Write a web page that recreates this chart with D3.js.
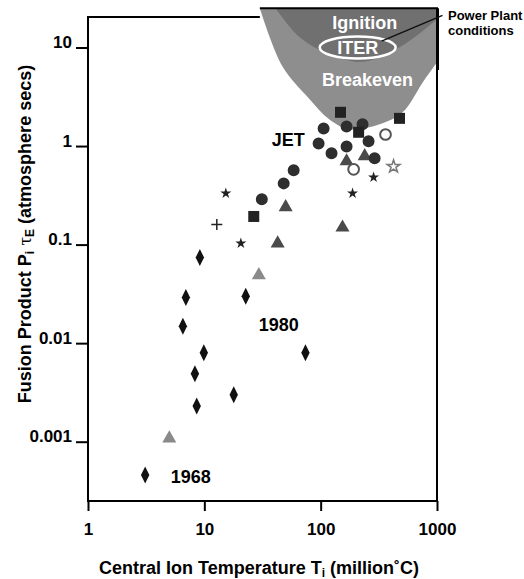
<!DOCTYPE html>
<html>
<head>
<meta charset="utf-8">
<script src="https://cdn.jsdelivr.net/npm/d3@7"></script>
<style>
  body { margin: 0; background: #fff; }
  text { font-family: "Liberation Sans", Arial, sans-serif; font-weight: bold; }
</style>
</head>
<body>
<div id="chart-area"></div>
<script>
const WIDTH = 524
const HEIGHT = 579
const LEFT = 88, RIGHT = 437, TOP = 17, BOTTOM = 501

// [temperature (million C), fusion product (atm s)]
const diamonds = [[9.15, 0.074], [6.94, 0.029], [22.7, 0.030], [6.54, 0.0148], [9.9, 0.0080],
  [74, 0.0080], [8.3, 0.0049], [17.9, 0.0030], [8.6, 0.0023], [3.1, 0.00046]]
const trianglesDark = [[50, 0.24], [42.7, 0.103], [154, 0.149], [167, 0.70], [239, 0.79]]
const trianglesLight = [[29.4, 0.049], [5.0, 0.00108]]
const circles = [[31.2, 0.288], [48.1, 0.418], [58.6, 0.567], [96, 1.06], [106, 1.51], [124, 0.843],
  [167, 1.58], [167, 0.99], [229, 1.66], [258, 1.12], [291, 0.75]]
const squares = [[26.6, 0.193], [148, 2.2], [212, 1.38], [476, 1.91]]
const openCircles = [[361, 1.31], [192, 0.58]]
const stars = [[15.3, 0.331], [20.6, 0.103], [188, 0.331], [285, 0.481]]
const openStars = [[423, 0.62]]
const crosses = [[12.8, 0.16]]

// lower edges of the shaded regions
const P_TOP = 25
const breakevenEdge = [[30, 25], [47, 6.4], [80, 3.0], [119, 1.86], [177, 1.48], [321, 1.66],
  [506, 2.2], [751, 4.4], [1000, 7.1]]
const ignitionEdge = [[41, 25], [66, 12.7], [119, 8.5], [239, 7.2], [526, 10.8], [1000, 19.3]]

const xTicks = [1, 10, 100, 1000]
const yTicks = [0.001, 0.01, 0.1, 1, 10]
const yTickLabels = ["0.001", "0.01", "0.1", "1", "10"]

const x = d3.scaleLog().domain([1, 1000]).range([LEFT, RIGHT])
const y = d3.scaleLog().domain([0.001, 10]).range([441.7, 47.5])

const svg = d3.select("#chart-area").append("svg")
  .attr("width", WIDTH)
  .attr("height", HEIGHT)

svg.append("rect").attr("width", WIDTH).attr("height", HEIGHT).attr("fill", "#fff")

// shaded regions
const edge = d3.line()
  .x(d => x(d[0]))
  .y(d => y(d[1]))
  .curve(d3.curveCatmullRom.alpha(0.5))

function region (points) {
  const first = points[0], last = points[points.length - 1]
  return edge(points) + `L${x(last[0])},${y(P_TOP)}L${x(first[0])},${y(P_TOP)}Z`
}

svg.append("path").attr("d", region(breakevenEdge)).attr("fill", "#8e8e8e")
svg.append("path").attr("d", region(ignitionEdge)).attr("fill", "#707070")

// frame
const xShade = x(breakevenEdge[0][0])
svg.append("path")
  .attr("d", `M${xShade},${TOP}H${LEFT}V${BOTTOM}H${RIGHT}V${y(P_TOP)}H${xShade}`)
  .attr("fill", "none")
  .attr("stroke", "#000")
  .attr("stroke-width", 2)
svg.append("line")
  .attr("x1", RIGHT + 0.5).attr("x2", RIGHT + 0.5)
  .attr("y1", y(P_TOP)).attr("y2", 70)
  .attr("stroke", "#000").attr("stroke-width", 3)

// axes
const xAxisGroup = svg.append("g").attr("transform", `translate(0, ${BOTTOM})`)
xAxisGroup.call(d3.axisBottom(x).tickValues(xTicks).tickFormat(d3.format("d")).tickSize(10))
xAxisGroup.select(".domain").remove()
xAxisGroup.attr("font-size", 17).attr("font-family", null)
xAxisGroup.selectAll("line").attr("stroke-width", 2)
xAxisGroup.selectAll("text").attr("y", 22).attr("fill", "#000")

const yAxisGroup = svg.append("g").attr("transform", `translate(${LEFT}, 0)`)
yAxisGroup.call(d3.axisLeft(y).tickValues(yTicks).tickFormat((d, i) => yTickLabels[i]).tickSize(12))
yAxisGroup.select(".domain").remove()
yAxisGroup.attr("font-size", 17).attr("font-family", null)
yAxisGroup.selectAll("line").attr("stroke-width", 2)
yAxisGroup.selectAll("text").attr("x", -16).attr("dy", "0").attr("fill", "#000")

// axis titles
const xTitle = svg.append("text")
  .attr("x", 259).attr("y", 574)
  .attr("text-anchor", "middle")
  .attr("font-size", 18)
xTitle.append("tspan").text("Central Ion Temperature T")
xTitle.append("tspan").attr("font-size", 12).attr("dy", 3).text("i")
xTitle.append("tspan").attr("dy", -3).text(" (million˚C)")

const yTitle = svg.append("text")
  .attr("transform", "translate(31, 234) rotate(-90)")
  .attr("text-anchor", "middle")
  .attr("font-size", 18)
yTitle.append("tspan").text("Fusion Product P")
yTitle.append("tspan").attr("font-size", 12).attr("dy", 3).text("i")
yTitle.append("tspan").attr("dy", -3).attr("font-weight", "normal")
  .attr("font-family", "DejaVu Serif, serif").attr("font-size", 16).text(" τ")
yTitle.append("tspan").attr("font-size", 12).attr("dy", 3).text("E")
yTitle.append("tspan").attr("dy", -3).text(" (atmosphere secs)")

// markers
const sym = (type, size) => d3.symbol().type(type).size(size)()
const diamondPath = "M0,-8.5L4.2,0L0,8.5L-4.2,0Z"
const crossPath = "M-5.5,0H5.5M0,-5.5V5.5"

const series = [
  {data: diamonds, d: diamondPath, fill: "#111", stroke: "none"},
  {data: trianglesLight, d: sym(d3.symbolTriangle, 85), fill: "#8a8a8a", stroke: "none"},
  {data: trianglesDark, d: sym(d3.symbolTriangle, 85), fill: "#4a4a4a", stroke: "none"},
  {data: circles, d: sym(d3.symbolCircle, 113), fill: "#2e2e2e", stroke: "none"},
  {data: squares, d: sym(d3.symbolSquare, 121), fill: "#222", stroke: "none"},
  {data: openCircles, d: sym(d3.symbolCircle, 90), fill: "#fff", stroke: "#555", width: 2},
  {data: stars, d: sym(d3.symbolStar, 38), fill: "#222", stroke: "none"},
  {data: openStars, d: sym(d3.symbolStar, 50), fill: "#fff", stroke: "#777", width: 1.5},
  {data: crosses, d: crossPath, fill: "none", stroke: "#222", width: 1.5}
]

series.forEach(s => {
  svg.append("g").selectAll("path").data(s.data).enter().append("path")
    .attr("transform", d => `translate(${x(d[0])}, ${y(d[1])})`)
    .attr("d", s.d)
    .attr("fill", s.fill)
    .attr("stroke", s.stroke)
    .attr("stroke-width", s.width || 0)
})

// annotations
svg.append("text").attr("x", x(73)).attr("y", y(1.0)).attr("text-anchor", "end")
  .attr("font-size", 18).text("JET")
svg.append("text").attr("x", x(29.4)).attr("y", y(0.0134)).attr("font-size", 18).text("1980")
svg.append("text").attr("x", x(5.15)).attr("y", y(0.000385)).attr("font-size", 18).text("1968")

svg.append("text").attr("x", x(239)).attr("y", y(15.5)).attr("text-anchor", "middle")
  .attr("font-size", 18).attr("fill", "#fff").text("Ignition")
svg.append("text").attr("x", x(253)).attr("y", y(4.1)).attr("text-anchor", "middle")
  .attr("font-size", 18).attr("fill", "#fff").text("Breakeven")

// ITER
svg.append("ellipse")
  .attr("cx", x(208)).attr("cy", y(10))
  .attr("rx", 38).attr("ry", 11)
  .attr("fill", "none").attr("stroke", "#fff").attr("stroke-width", 2.5)
svg.append("text").attr("x", x(208)).attr("y", y(10) + 6.5).attr("text-anchor", "middle")
  .attr("font-size", 18).attr("fill", "#fff").text("ITER")

// power plant pointer
svg.append("line")
  .attr("x1", x(1115)).attr("y1", y(21.2))
  .attr("x2", x(334)).attr("y2", y(11.6))
  .attr("stroke", "#111").attr("stroke-width", 1.5)
const pp = svg.append("text").attr("x", 448).attr("font-size", 13)
pp.append("tspan").attr("x", 448).attr("y", 20).text("Power Plant")
pp.append("tspan").attr("x", 448).attr("y", 35).text("conditions")
</script>
</body>
</html>
